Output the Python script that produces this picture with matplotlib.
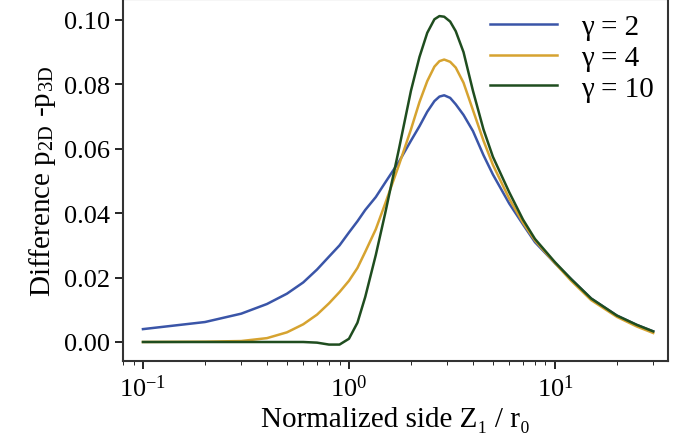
import matplotlib
matplotlib.use("Agg")
import matplotlib.pyplot as plt
import numpy as np

plt.rcParams['font.family'] = ['Liberation Serif', 'DejaVu Serif']
plt.rcParams['mathtext.fontset'] = 'stix'

x = [0.1, 0.2, 0.3, 0.4, 0.5, 0.6, 0.7, 0.8, 0.9, 1.0, 1.1, 1.2, 1.35, 1.5, 1.75, 2.0, 2.2, 2.4, 2.6, 2.75, 2.9, 3.1, 3.3, 3.6, 4.0, 4.5, 5.0, 6.0, 7.0, 8.0, 10.0, 12.0, 15.0, 20.0, 25.0, 30.0]
g2 = [0.004, 0.0062, 0.0088, 0.0118, 0.015, 0.0185, 0.0225, 0.0265, 0.030, 0.034, 0.0375, 0.041, 0.045, 0.0495, 0.056, 0.0625, 0.067, 0.0715, 0.0748, 0.0762, 0.0766, 0.0758, 0.0738, 0.0705, 0.0655, 0.058, 0.052, 0.043, 0.0365, 0.031, 0.0245, 0.0195, 0.0135, 0.0082, 0.0053, 0.0033]
g4 = [0.0, 0.0001, 0.0003, 0.0012, 0.003, 0.0055, 0.0085, 0.012, 0.0155, 0.019, 0.023, 0.028, 0.035, 0.043, 0.055, 0.066, 0.0745, 0.081, 0.0855, 0.0872, 0.0877, 0.087, 0.0852, 0.0805, 0.072, 0.0625, 0.055, 0.0445, 0.037, 0.0315, 0.0245, 0.019, 0.013, 0.0078, 0.0048, 0.0028]
g10 = [0.0, 0.0, 0.0, 0.0, 0.0, 0.0, -0.0002, -0.0008, -0.0008, 0.001, 0.006, 0.014, 0.027, 0.040, 0.060, 0.078, 0.0885, 0.096, 0.1002, 0.1012, 0.101, 0.0995, 0.0965, 0.090, 0.078, 0.066, 0.0575, 0.0465, 0.038, 0.032, 0.0248, 0.0195, 0.0135, 0.0082, 0.0053, 0.0033]
labels = ['γ = 2', 'γ = 4', 'γ = 10']
colors = ['#3a55a8', '#d6a330', '#1f4d1f']

fig = plt.figure(figsize=(6.79, 4.39), dpi=100)
ax = fig.add_axes([123/679, 1-362/439, (668-123)/679, 362/439])
for y, lab, c in zip([g2, g4, g10], labels, colors):
    ax.plot(x, y, color=c, lw=1.8, label=lab)
ax.set_xscale('log')
ax.set_xlim(0.08, 35.4)
ax.set_ylim(-0.0059, 0.1065)
ax.set_yticks([0.0, 0.02, 0.04, 0.06, 0.08, 0.10])
ax.set_yticklabels(['0.00', '0.02', '0.04', '0.06', '0.08', '0.10'])
ax.tick_params(direction='out', labelsize=19, length=6, width=1.2)
ax.tick_params(which='minor', direction='out', length=3)
for s in ax.spines.values():
    s.set_linewidth(1.5)
    s.set_color('#333333')
ax.set_xlabel('Normalized side Z\u2081 / r\u2080', fontsize=21)
ax.set_ylabel(r'Difference p$_{\mathregular{2D}}$ -p$_{\mathregular{3D}}$', fontsize=21)
ax.legend(loc='upper right', frameon=False, fontsize=21, handlelength=2.3, borderaxespad=0.1, labelspacing=0.15)
fig.savefig('out.png', dpi=100)
